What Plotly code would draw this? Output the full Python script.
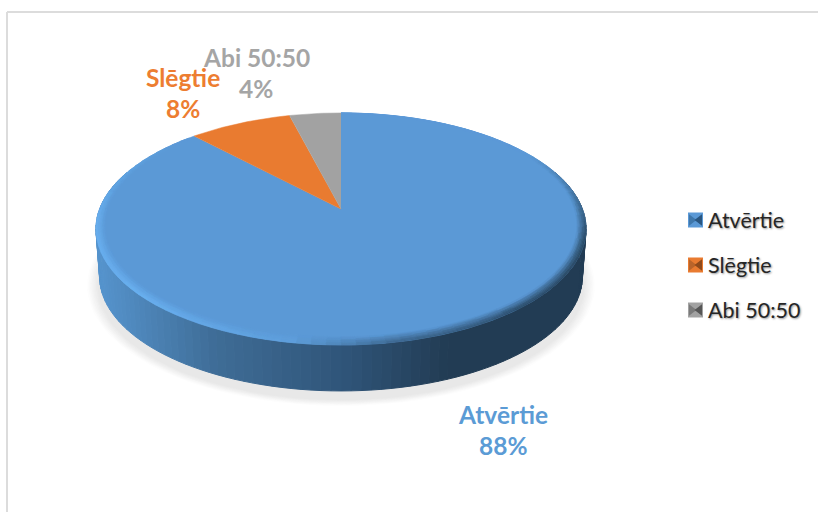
import math
import plotly.graph_objects as go

categories = ["Atvērtie", "Slēgtie", "Abi 50:50"]
values = [88, 8, 4]
face_colors = ["#5b99d6", "#e97b30", "#a2a2a2"]
mid_colors = ["#3f77ab", "#b9642a", "#7a7a7a"]
dark_colors = ["#2a5680", "#8f4a1b", "#565656"]

# perspective of the tilted disc, apex of the slices sits above the ellipse centre
CX, CY = 341, 209
R, H, K = 241.4, 112.6, 0.172
DEPTH = 48


def proj(deg, r=1.0, scale=1.0, dy=0.0):
    a = math.radians(deg)
    u, v = r * math.sin(a), r * math.cos(a)
    w = 1 + K * v
    return CX + scale * R * u / w, CY + dy - scale * H * v / w


def hex2rgb(c):
    return [int(c[i:i + 2], 16) for i in (1, 3, 5)]


def ramp(stops, t):
    if t <= stops[0][0]:
        return hex2rgb(stops[0][1])
    for (t0, c0), (t1, c1) in zip(stops, stops[1:]):
        if t <= t1:
            f = (t - t0) / (t1 - t0)
            return [a + (b - a) * f for a, b in zip(hex2rgb(c0), hex2rgb(c1))]
    return hex2rgb(stops[-1][1])


def to_hex(rgb):
    return "#%02x%02x%02x" % tuple(int(round(c)) for c in rgb)


wall_stops = [(100, "#5593cc"), (213, "#3f6d97"), (347, "#2f5478"), (447, "#223c54"), (590, "#223c54")]
rim_stops = [(0, "#5b99d6"), (58, "#5b99d6"), (85, "#3f6d97"), (105, "#294760"), (140, "#2b4b68"),
             (170, "#3d6890"), (190, "#5f9fdc"), (225, "#69b0f0"), (265, "#68aeee"), (290, "#60a4e2"),
             (310, "#5b99d6"), (360, "#5b99d6")]

buckets = {}


def add_poly(color, pts):
    xs, ys = buckets.setdefault(color, ([], []))
    xs.extend([p[0] for p in pts] + [pts[0][0], None])
    ys.extend([p[1] for p in pts] + [pts[0][1], None])


fig = go.Figure()

# soft shadow under the disc
for i in range(8):
    s = 1.036 - i * 0.006
    shade = 253 - i * 3
    pts = [proj(d, scale=s, dy=56) for d in range(0, 360, 3)]
    fig.add_trace(go.Scatter(x=[p[0] for p in pts], y=[p[1] for p in pts], mode="lines", fill="toself",
                             fillcolor=to_hex([shade] * 3), line=dict(width=0),
                             showlegend=False, hoverinfo="skip"))

# side wall
for d in range(70, 290, 2):
    top = [proj(d), proj(d + 2)]
    bot = [proj(d + 2, scale=0.985, dy=DEPTH), proj(d, scale=0.985, dy=DEPTH)]
    add_poly(to_hex(ramp(wall_stops, (top[0][0] + top[1][0]) / 2)), top + bot)
for color, (xs, ys) in buckets.items():
    fig.add_trace(go.Scatter(x=xs, y=ys, mode="lines", fill="toself", fillcolor=color,
                             line=dict(width=1, color=color), showlegend=False, hoverinfo="skip"))

# top face, slices run clockwise from 12 o'clock
start = 0.0
total = sum(values)
for cat, val, col in zip(categories, values, face_colors):
    sweep = val / total * 360
    n = max(2, int(sweep))
    pts = [(CX, CY)] + [proj(start + sweep * j / n) for j in range(n + 1)]
    fig.add_trace(go.Scatter(x=[p[0] for p in pts], y=[p[1] for p in pts], mode="lines", fill="toself",
                             fillcolor=col, line=dict(width=0.5, color=col), name=cat,
                             showlegend=False, hoverinfo="skip"))
    start += sweep

# bevel on the blue slice's rim: thin at the back, wide at the front, small slices stay flat
buckets = {}
layers = 8
for i in range(layers):
    f = (i + 0.5) / layers
    for d in range(0, 315, 3):
        step = 0.0065 * (0.65 - 0.35 * math.cos(math.radians(d + 1.5)))
        r0, r1 = 1 - i * step, 1 - (i + 1) * step
        edge = ramp(rim_stops, d + 1.5)
        col = [a + (b - a) * f ** 1.3 for a, b in zip(edge, hex2rgb(face_colors[0]))]
        col = [round(c / 2) * 2 for c in col]
        add_poly(to_hex(col), [proj(d, r0), proj(d + 3, r0), proj(d + 3, r1), proj(d, r1)])
for color, (xs, ys) in buckets.items():
    fig.add_trace(go.Scatter(x=xs, y=ys, mode="lines", fill="toself", fillcolor=color,
                             line=dict(width=0.6, color=color), showlegend=False, hoverinfo="skip"))

# legend drawn by hand because of the bevelled keys
legend_rows = [220, 265, 310]
for cat, face, mid, dark, row in zip(categories, face_colors, mid_colors, dark_colors, legend_rows):
    fig.add_trace(go.Scatter(x=[695.5], y=[row], mode="markers", showlegend=False, hoverinfo="skip",
                             marker=dict(symbol="square", size=15, color=face, line=dict(width=0))))
    fig.add_trace(go.Scatter(x=[691.5], y=[row], mode="markers", showlegend=False, hoverinfo="skip",
                             marker=dict(symbol="triangle-right", size=10, color=mid, line=dict(width=0))))
    fig.add_trace(go.Scatter(x=[699.5], y=[row], mode="markers", showlegend=False, hoverinfo="skip",
                             marker=dict(symbol="triangle-left", size=10, color=dark, line=dict(width=0))))
    fig.add_annotation(x=706, y=row, text=cat, showarrow=False, xanchor="left", yanchor="middle",
                       font=dict(family="Lato", size=21.5, color="#262626", shadow="1px 1px 2px #999999"))

# data labels
label_pos = [(503, 414, 445), (183, 77, 108), (256, 57, 88)]
label_colors = ["#5b9bd5", "#ed7d31", "#a5a5a5"]
for cat, val, col, (lx, ly1, ly2) in zip(categories, values, label_colors, label_pos):
    for txt, ly in ((cat, ly1), (f"{val}%", ly2)):
        fig.add_annotation(x=lx, y=ly, text=f"<b>{txt}</b>", showarrow=False, xanchor="center", yanchor="middle",
                           font=dict(family="Lato", size=24.5, color=col))

# frame of the chart area
fig.add_shape(type="line", x0=7, x1=7, y0=12, y1=512, line=dict(color="#dcdcdc", width=2))
fig.add_shape(type="line", x0=7, x1=818, y0=12, y1=12, line=dict(color="#dcdcdc", width=2))

fig.update_xaxes(range=[0, 818], visible=False, fixedrange=True)
fig.update_yaxes(range=[512, 0], visible=False, fixedrange=True)
fig.update_layout(width=818, height=512, margin=dict(l=0, r=0, t=0, b=0),
                  plot_bgcolor="white", paper_bgcolor="white", showlegend=False)

fig.write_html("out.html", config={"displayModeBar": False},
               post_script="document.body.style.margin='0';document.body.style.overflow='hidden';")
